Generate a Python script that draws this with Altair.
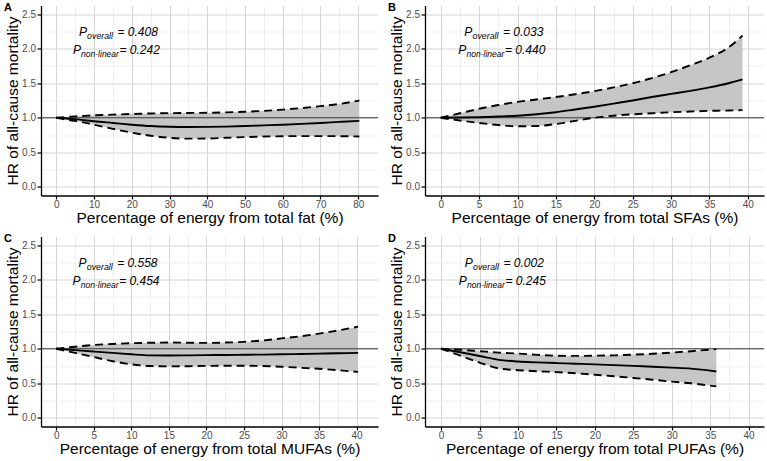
import altair as alt
import pandas as pd

FONT = "Liberation Sans"

# ---------------- data ----------------
a_x = [0, 2.5, 5, 7.5, 10, 15, 20, 25, 30, 35, 40, 45, 50, 55, 60, 65, 70, 75, 80.3]
a_hr = [1.0, 0.99, 0.98, 0.965, 0.95, 0.925, 0.90, 0.88, 0.87, 0.867, 0.868, 0.872, 0.88, 0.89, 0.90, 0.912, 0.925, 0.94, 0.955]
a_hi = [1.0, 1.01, 1.02, 1.028, 1.035, 1.045, 1.055, 1.062, 1.067, 1.07, 1.072, 1.078, 1.088, 1.10, 1.118, 1.14, 1.168, 1.20, 1.25]
a_lo = [1.0, 0.975, 0.955, 0.93, 0.90, 0.84, 0.785, 0.74, 0.71, 0.698, 0.70, 0.71, 0.72, 0.728, 0.733, 0.735, 0.735, 0.733, 0.73]

b_x = [0, 2.5, 5, 7.5, 10, 12.5, 15, 17.5, 20, 22.5, 25, 27.5, 30, 32.5, 35, 37.5, 39.3]
b_hr = [1.0, 1.003, 1.008, 1.018, 1.03, 1.05, 1.08, 1.12, 1.16, 1.205, 1.25, 1.30, 1.345, 1.39, 1.44, 1.50, 1.555]
b_hi = [1.0, 1.065, 1.13, 1.185, 1.23, 1.265, 1.30, 1.34, 1.385, 1.44, 1.50, 1.575, 1.66, 1.76, 1.87, 2.02, 2.19]
b_lo = [1.0, 0.96, 0.925, 0.895, 0.877, 0.88, 0.91, 0.955, 1.0, 1.03, 1.05, 1.065, 1.08, 1.09, 1.10, 1.105, 1.11]

c_x = [0, 2.5, 5, 7.5, 10, 12.5, 15, 17.5, 20, 22.5, 25, 27.5, 30, 32.5, 35, 37.5, 40.2]
c_hr = [1.0, 0.98, 0.96, 0.94, 0.92, 0.905, 0.903, 0.905, 0.908, 0.91, 0.913, 0.916, 0.92, 0.925, 0.93, 0.935, 0.94]
c_hi = [1.0, 1.03, 1.055, 1.07, 1.08, 1.087, 1.09, 1.087, 1.085, 1.09, 1.10, 1.12, 1.15, 1.18, 1.22, 1.265, 1.32]
c_lo = [1.0, 0.94, 0.88, 0.82, 0.775, 0.75, 0.745, 0.748, 0.752, 0.755, 0.755, 0.75, 0.74, 0.725, 0.71, 0.69, 0.665]

d_x = [0, 2.5, 5, 7.5, 10, 12.5, 15, 17.5, 20, 22.5, 25, 27.5, 30, 32.5, 35.8]
d_hr = [1.0, 0.95, 0.895, 0.84, 0.815, 0.803, 0.793, 0.784, 0.774, 0.763, 0.752, 0.74, 0.727, 0.713, 0.672]
d_hi = [1.0, 0.985, 0.965, 0.945, 0.93, 0.912, 0.90, 0.897, 0.90, 0.905, 0.915, 0.928, 0.945, 0.965, 0.995]
d_lo = [1.0, 0.9, 0.8, 0.715, 0.69, 0.675, 0.662, 0.645, 0.625, 0.602, 0.578, 0.552, 0.525, 0.5, 0.455]

letters = ["A", "B", "C", "D"]
x_titles = [
    "Percentage of energy from total fat (%)",
    "Percentage of energy from total SFAs (%)",
    "Percentage of energy from total MUFAs (%)",
    "Percentage of energy from total PUFAs (%)",
]
y_title = "HR of all-cause mortality"
p_overall = ["0.408", "0.033", "0.558", "0.002"]
p_nonlinear = ["0.242", "0.440", "0.454", "0.245"]
ann_x = [16, 8, 8, 8]
ann_y1 = 2.25
ann_y2 = 2.0

x_major = [list(range(0, 81, 10)), list(range(0, 41, 5)), list(range(0, 41, 5)), list(range(0, 41, 5))]
x_minor = [[v + 5 for v in range(0, 80, 10)], [v + 2.5 for v in range(0, 40, 5)],
           [v + 2.5 for v in range(0, 40, 5)], [v + 2.5 for v in range(0, 40, 5)]]
x_step = [10, 5, 5, 5]
x_domains = [[-4.06, 85.25], [-2.05, 42.1], [-2.04, 42.85], [-2.1, 42.0]]
y_major = [0, 0.5, 1.0, 1.5, 2.0, 2.5]
y_minor = [0.25, 0.75, 1.25, 1.75, 2.25]

series = [(a_x, a_hr, a_lo, a_hi), (b_x, b_hr, b_lo, b_hi), (c_x, c_hr, c_lo, c_hi), (d_x, d_hr, d_lo, d_hi)]
widths = [337, 339, 337, 339]
HEIGHT = 190

MAJOR_GRID = "#d4d4d4"
MINOR_GRID = "#ebebeb"


def major_test(step):
    return f"abs(datum.value / {step} - round(datum.value / {step})) < 1e-6"


def panel(i):
    xs, hr, lo, hi = series[i]
    df = pd.DataFrame({"x": xs, "hr": hr, "lo": lo, "hi": hi})
    xtest = major_test(x_step[i])
    ytest = major_test(0.5)
    xscale = alt.Scale(domain=x_domains[i], nice=False, zero=False)
    yscale = alt.Scale(domain=[-0.125, 2.625], nice=False, zero=False)
    xaxis = alt.Axis(
        values=sorted(x_major[i] + x_minor[i]),
        labelExpr=f"{xtest} ? format(datum.value, 'd') : ''",
        gridColor={"condition": {"test": xtest, "value": MAJOR_GRID}, "value": MINOR_GRID},
        gridWidth={"condition": {"test": xtest, "value": 1.0}, "value": 0.8},
        tickOpacity={"condition": {"test": xtest, "value": 1}, "value": 0},
        labelFlush=False,
        labelOverlap=False,
        tickSize=3.5,
        labelPadding=0.5,
        titlePadding=0.5,
    )
    yaxis = alt.Axis(
        values=sorted(y_major + y_minor),
        labelExpr=f"{ytest} ? format(datum.value, '.1f') : ''",
        gridColor={"condition": {"test": ytest, "value": MAJOR_GRID}, "value": MINOR_GRID},
        gridWidth={"condition": {"test": ytest, "value": 1.0}, "value": 0.8},
        tickOpacity={"condition": {"test": ytest, "value": 1}, "value": 0},
        labelFlush=False,
        labelOverlap=False,
        labelPadding=1.5,
        titlePadding=1,
    )
    X0 = lambda f: alt.X(f, scale=xscale, axis=xaxis, title=x_titles[i])
    Y0 = lambda f: alt.Y(f, scale=yscale, axis=yaxis, title=y_title)

    base = alt.Chart(df)
    band = base.mark_area(color="#c6c6c6", interpolate="monotone").encode(
        x=X0("x:Q"), y=Y0("lo:Q"), y2="hi:Q",
    )
    ref = alt.Chart(pd.DataFrame({"r": [1.0]})).mark_rule(color="#3c3c3c", strokeWidth=1.2).encode(
        y=Y0("r:Q")
    )
    dash = [8, 5]
    hi_line = base.mark_line(color="black", strokeWidth=1.9, strokeDash=dash, interpolate="monotone").encode(
        x=X0("x:Q"), y=Y0("hi:Q")
    )
    lo_line = base.mark_line(color="black", strokeWidth=1.9, strokeDash=dash, interpolate="monotone").encode(
        x=X0("x:Q"), y=Y0("lo:Q")
    )
    mid_line = base.mark_line(color="black", strokeWidth=1.9, interpolate="monotone").encode(
        x=X0("x:Q"), y=Y0("hr:Q")
    )

    ann = pd.DataFrame({
        "ax": [ann_x[i]], "y1": [ann_y1], "y2": [ann_y2],
        "v1": ["= " + p_overall[i]], "v2": ["= " + p_nonlinear[i]],
    })
    abase = alt.Chart(ann)
    tstyle = dict(font=FONT, fontStyle="italic", align="left", baseline="alphabetic", color="black")
    texts = [
        abase.mark_text(text="P", fontSize=12, dx=-37.8, dy=4.5, **tstyle).encode(
            x=X0("ax:Q"), y=Y0("y1:Q")),
        abase.mark_text(text="overall", fontSize=8.8, dx=-29.6, dy=7.5, **tstyle).encode(
            x=X0("ax:Q"), y=Y0("y1:Q")),
        abase.mark_text(fontSize=12, dx=0.8, dy=4.5, **tstyle).encode(
            x=X0("ax:Q"), y=Y0("y1:Q"), text="v1:N"),
        abase.mark_text(text="P", fontSize=12, dx=-43.8, dy=5, **tstyle).encode(
            x=X0("ax:Q"), y=Y0("y2:Q")),
        abase.mark_text(text="non-linear", fontSize=8.5, dx=-35.6, dy=8, **tstyle).encode(
            x=X0("ax:Q"), y=Y0("y2:Q")),
        abase.mark_text(fontSize=12, dx=2.8, dy=5, **tstyle).encode(
            x=X0("ax:Q"), y=Y0("y2:Q"), text="v2:N"),
    ]
    letter = alt.Chart(pd.DataFrame({"l": [letters[i]]})).mark_text(
        font=FONT, fontWeight="bold", fontSize=11, align="left", baseline="middle", color="black"
    ).encode(x=alt.value(-37), y=alt.value(2), text="l:N")

    return alt.layer(band, ref, hi_line, lo_line, mid_line, *texts, letter).properties(
        width=widths[i], height=HEIGHT
    )


row1 = alt.hconcat(panel(0), panel(1), spacing=9)
row2 = alt.hconcat(panel(2), panel(3), spacing=9)
chart = alt.vconcat(row1, row2, spacing=7).properties(
    padding={"left": 4, "top": 1.5, "right": 0, "bottom": 0},
    background="white",
).configure_view(stroke=None).configure_axis(
    domainColor="black", domainWidth=1.3, tickColor="black", tickWidth=1.2, tickSize=4,
    labelColor="#4d4d4d", labelFont=FONT, labelFontSize=10, labelOverlap=False,
    titleFont=FONT, titleFontSize=15.5, titleFontWeight="normal", titleColor="black",
)

chart.save("out.html", embed_options={"renderer": "svg", "actions": False})
